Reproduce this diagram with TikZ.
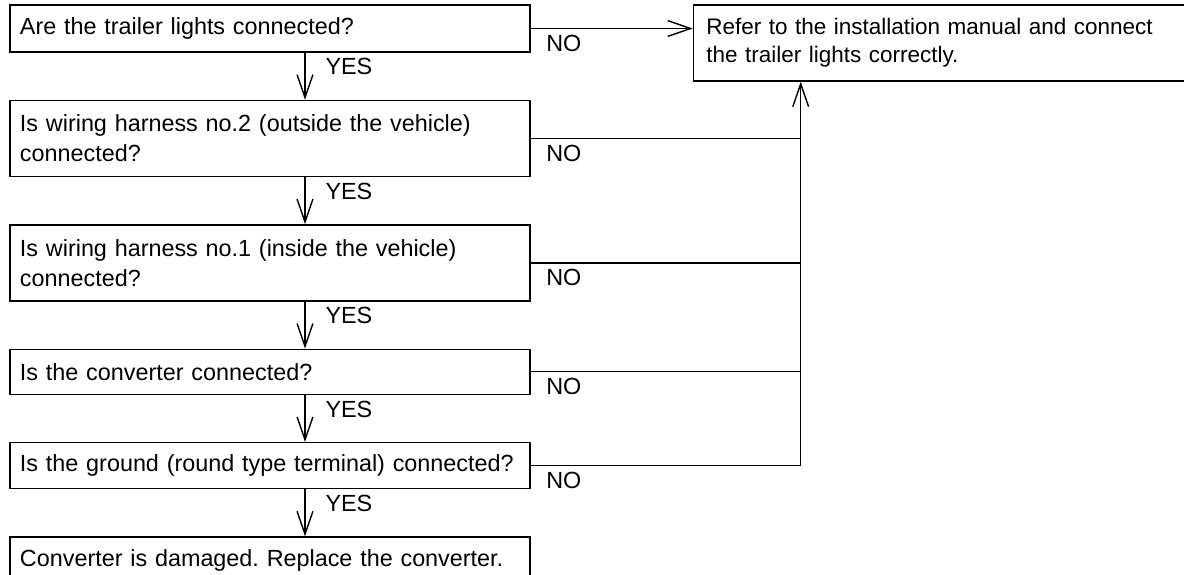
\documentclass[tikz,border=0pt]{standalone}
\usepackage{fontspec}
\setmainfont{Liberation Sans}
\usetikzlibrary{arrows.meta, positioning}
\frenchspacing

\begin{document}
\begin{tikzpicture}[
  node distance=0.94cm,
  font=\fontsize{13.3}{17}\selectfont,
  box/.style={draw, line width=0.8pt, text width=10cm, inner xsep=0.2cm, minimum height=0.92cm, align=left},
  tall/.style={minimum height=1.52cm},
  arrow/.style={line width=0.8pt, -{Straight Barb[length=13pt, width=9pt]}},
  line/.style={line width=0.8pt},
  yes/.style={pos=0.3, anchor=west, xshift=0.28cm},
  no/.style={pos=0, anchor=north west, xshift=0.18cm},
]
\useasboundingbox (0,0) rectangle (23.68,-11.48);

% Nodes
\node[box, minimum height=0.94cm] (n1) at (5.4,-0.57) {Are the trailer lights connected?};
\node[box, tall, below=of n1] (n2) {Is wiring harness no.2 (outside the vehicle)\\ connected?};
\node[box, tall, below=of n2] (n3) {Is wiring harness no.1 (inside the vehicle)\\ connected?};
\node[box, minimum height=0.9cm, below=of n3] (n4) {Is the converter connected?};
\node[box, below=of n4] (n5) {Is the ground (round type terminal) connected?};
\node[box, below=of n5] (n6) {Converter is damaged. Replace the converter.};
\node[box, tall, font=\fontsize{12.8}{16}\selectfont, text width=9.56cm, inner xsep=0.26cm, right=3.24cm of n1.north east, anchor=north west] (n7) {Refer to the installation manual and connect\\ the trailer lights correctly.};
% Pointers
\coordinate[right=2.16cm of n7.south west] (n8);
% Arrows
\draw[arrow] ([xshift=0.7cm]n1.south) -- node[yes] {YES} ([xshift=0.7cm]n2.north);
\draw[arrow] ([xshift=0.7cm]n2.south) -- node[yes] {YES} ([xshift=0.7cm]n3.north);
\draw[arrow] ([xshift=0.7cm]n3.south) -- node[yes] {YES} ([xshift=0.7cm]n4.north);
\draw[arrow] ([xshift=0.7cm]n4.south) -- node[yes] {YES} ([xshift=0.7cm]n5.north);
\draw[arrow] ([xshift=0.7cm]n5.south) -- node[yes] {YES} ([xshift=0.7cm]n6.north);
\draw[arrow] (n1.east) -- node[no] {NO} (n1.east -| n7.west);
\draw[line] (n2.east) -- node[no] {NO} (n2.east -| n8);
\draw[line] (n3.east) -- node[no] {NO} (n3.east -| n8);
\draw[line] (n4.east) -- node[no] {NO} (n4.east -| n8);
\draw[line] (n5.east) -- node[no] {NO} (n5.east -| n8);
\draw[arrow] (n5.east -| n8) -- (n8);
\end{tikzpicture}
\end{document}
